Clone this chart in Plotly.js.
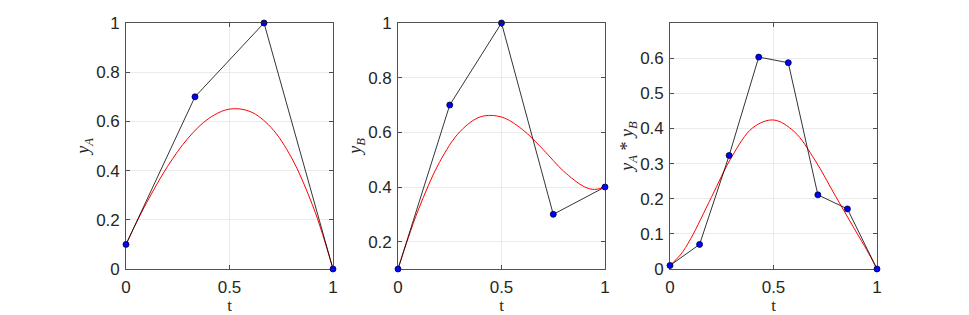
<!DOCTYPE html>
<html><head><meta charset="utf-8">
<script src="https://cdn.plot.ly/plotly-3.0.1.min.js"></script>
<style>html,body{margin:0;padding:0;background:#fff}#c{width:969px;height:315px}</style>
</head><body><div id="c"></div>
<script>
// control polygons
const tA = [0, 0.3333, 0.6667, 1];
const yA = [0.1, 0.7, 1, 0];
const tB = [0, 0.25, 0.5, 0.75, 1];
const yB = [0.1, 0.7, 1, 0.3, 0.4];
const tAB = [0, 0.1429, 0.2857, 0.4286, 0.5714, 0.7143, 0.8571, 1];
const yAB = [0.01, 0.07, 0.323, 0.603, 0.587, 0.211, 0.171, 0];
const tCurve = [0, 0.05, 0.1, 0.2, 0.3, 0.4, 0.5, 0.6, 0.7, 0.8, 0.9, 0.95, 1];
const curveA = [0.1, 0.188, 0.270, 0.416, 0.532, 0.612, 0.650, 0.640, 0.576, 0.452, 0.262, 0.140, 0];
const curveB = [0.1, 0.215, 0.320, 0.490, 0.603, 0.657, 0.656, 0.611, 0.538, 0.458, 0.401, 0.391, 0.4];
const curveAB = [0.01, 0.040, 0.086, 0.204, 0.321, 0.402, 0.424, 0.391, 0.310, 0.207, 0.105, 0.055, 0];
const xTicks = [0, 0.5, 1];
const xTickText = ['0', '0.5', '1'];
const yTicksA = [0, 0.2, 0.4, 0.6, 0.8, 1];
const yTicksB = [0.2, 0.4, 0.6, 0.8, 1];
const yTicksAB = [0, 0.1, 0.2, 0.3, 0.4, 0.5, 0.6];

const axCol = '#262626';
const W = 969, H = 315;
const panels = [
  {t: tA, y: yA, c: curveA, yr: [0, 1], yt: yTicksA, title: '<i>y<sub>A</sub></i>', x0: 126, x1: 333},
  {t: tB, y: yB, c: curveB, yr: [0.1, 1], yt: yTicksB, title: '<i>y<sub>B</sub></i>', x0: 398, x1: 605},
  {t: tAB, y: yAB, c: curveAB, yr: [0, 0.7], yt: yTicksAB, title: '<i>y<sub>A</sub></i> * <i>y<sub>B</sub></i>', x0: 670, x1: 877}
];
const data = [];
const layout = {
  width: W, height: H, showlegend: false,
  margin: {l: 0, r: 0, t: 0, b: 0},
  paper_bgcolor: '#fff', plot_bgcolor: '#fff',
  font: {family: 'Liberation Sans, Arial, sans-serif', color: axCol}
};
panels.forEach((p, i) => {
  const n = i === 0 ? '' : String(i + 1);
  data.push({x: tCurve, y: p.c, xaxis: 'x' + n, yaxis: 'y' + n, mode: 'lines',
    line: {color: '#ff0000', width: 1, shape: 'spline', smoothing: 1}, hoverinfo: 'skip'});
  data.push({x: p.t, y: p.y, xaxis: 'x' + n, yaxis: 'y' + n, mode: 'lines+markers', cliponaxis: false,
    line: {color: '#000000', width: 0.8},
    marker: {color: '#0000ff', size: 6, line: {color: '#000033', width: 0.8}}});
  const common = {showline: true, mirror: 'ticks', linecolor: axCol, linewidth: 0.8,
    ticks: 'inside', ticklen: 4, tickcolor: axCol, tickwidth: 0.8,
    showgrid: true, gridcolor: '#e6e6e6', gridwidth: 0.8, zeroline: false,
    tickfont: {size: 17, color: axCol, family: 'Liberation Sans, Arial, sans-serif'}};
  layout['xaxis' + n] = Object.assign({}, common, {
    domain: [p.x0 / W, p.x1 / W], range: [0, 1], anchor: 'y' + n,
    tickvals: xTicks, ticktext: xTickText, ticklabelstandoff: 3,
    title: {text: 't', standoff: 3, font: {family: 'Liberation Serif, serif', size: 17, color: axCol}}
  });
  layout['yaxis' + n] = Object.assign({}, common, {
    domain: [1 - 269 / H, 1 - 23 / H], range: p.yr, anchor: 'x' + n,
    tickvals: p.yt, ticklabelstandoff: 2,
    title: {text: p.title, standoff: 1, font: {family: 'Liberation Serif, serif', size: 18, color: axCol}}
  });
});
Plotly.newPlot('c', data, layout, {displayModeBar: false, staticPlot: true});
</script></body></html>
